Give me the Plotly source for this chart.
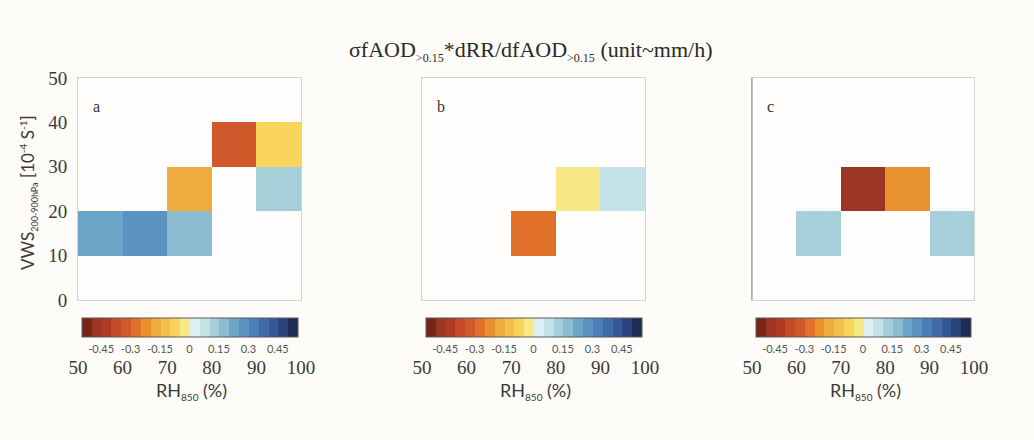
import plotly.graph_objects as go

# Bin centres (RH850 in %, VWS in 1e-4 s^-1) and the 10-unit bin edges used as ticks
rh_centres = [55, 65, 75, 85, 95]
vws_centres = [5, 15, 25, 35, 45]
rh_ticks = [50, 60, 70, 80, 90, 100]
vws_ticks = [0, 10, 20, 30, 40, 50]

# Contribution values per (VWS row, RH column); None = no data
panel_a = [
    [None, None, None, None, None],
    [0.22, 0.27, 0.17, None, None],
    [None, None, -0.17, None, 0.12],
    [None, None, None, -0.32, -0.08],
    [None, None, None, None, None],
]
panel_b = [
    [None, None, None, None, None],
    [None, None, -0.27, None, None],
    [None, None, None, -0.03, 0.07],
    [None, None, None, None, None],
    [None, None, None, None, None],
]
panel_c = [
    [None, None, None, None, None],
    [None, 0.12, None, None, 0.12],
    [None, None, -0.48, -0.22, None],
    [None, None, None, None, None],
    [None, None, None, None, None],
]
panel_letters = ["a", "b", "c"]

cbar_ticks = [-0.45, -0.3, -0.15, 0, 0.15, 0.3, 0.45]
cbar_labels = ["-0.45", "-0.3", "-0.15", "0", "0.15", "0.3", "0.45"]
cmin, cmax = -0.55, 0.55

# 22 discrete colour levels, 0.05 wide each
level_colors = [
    "#7a2419", "#9b3524", "#b03b24", "#c44a27", "#d0582a", "#e0702a",
    "#e8922f", "#eeab3e", "#f3c04b", "#f8d55a", "#f8e885",
    "#dceff2", "#c4e2e8", "#a6cfd9", "#8bbcd2", "#6da5c9", "#5b92c0",
    "#4b7fb5", "#3f6ca8", "#345796", "#2a437c", "#1e2b55",
]
n = len(level_colors)
colorscale = []
for i, c in enumerate(level_colors):
    colorscale.append([i / n, c])
    colorscale.append([(i + 1) / n, c])

W, H = 1034, 440
# Panel boxes in pixels: (left, right), shared top/bottom
boxes = [(78, 301), (422, 645), (752, 974)]
top_px, bottom_px = 78, 300

SERIF = "Liberation Serif"
SANS = "Lato"

fig = go.Figure()
panels = [panel_a, panel_b, panel_c]
for k, z in enumerate(panels):
    sfx = "" if k == 0 else str(k + 1)
    fig.add_trace(go.Heatmap(
        x=rh_centres, y=vws_centres, z=z,
        coloraxis="coloraxis" + sfx,
        xaxis="x" + sfx, yaxis="y" + sfx,
        hoverongaps=False,
    ))

layout = dict(
    width=W, height=H,
    margin=dict(l=0, r=0, t=0, b=0, autoexpand=False),
    paper_bgcolor="#fdfcf8",
    plot_bgcolor="#fefdfb",
    showlegend=False,
)

for k, (l, r) in enumerate(boxes):
    sfx = "" if k == 0 else str(k + 1)
    layout["xaxis" + sfx] = dict(
        domain=[l / W, r / W], range=[50, 100],
        tickvals=rh_ticks, ticktext=[str(v) for v in rh_ticks],
        ticks="", ticklabelstandoff=50,
        tickfont=dict(family=SERIF, size=19, color="#3a3a3a"),
        showgrid=False, zeroline=False,
        showline=True, mirror=True, linecolor="#d2d2d2", linewidth=1,
        anchor="y" + sfx, fixedrange=True, automargin=False,
    )
    layout["yaxis" + sfx] = dict(
        domain=[1 - bottom_px / H, 1 - top_px / H], range=[0, 50],
        tickvals=vws_ticks,
        showticklabels=(k == 0),
        ticks="", ticklabelstandoff=6,
        tickfont=dict(family=SERIF, size=19, color="#3a3a3a"),
        showgrid=False, zeroline=False,
        showline=True, mirror=True, linecolor="#d2d2d2", linewidth=1,
        anchor="x" + sfx, fixedrange=True, automargin=False,
    )
    cx = (l + r) / 2 / W
    layout["coloraxis" + sfx] = dict(
        colorscale=colorscale, cmin=cmin, cmax=cmax,
        colorbar=dict(
            orientation="h", x=cx, xanchor="center",
            y=1 - 318 / H, yanchor="top",
            lenmode="pixels", len=(r - l) - 7, thickness=19,
            xpad=0, ypad=0,
            outlinewidth=1, outlinecolor="#5a5a5a",
            tickvals=cbar_ticks, ticktext=cbar_labels,
            ticks="outside", ticklen=3, tickcolor="rgba(0,0,0,0)",
            tickfont=dict(family=SANS, size=11, color="#555555"),
        ),
    )

fig.update_layout(**layout)

sub_small = '<sub><span style="font-size:12px">{}</span></sub>'
annotations = [
    dict(
        text="σfAOD" + sub_small.format(">0.15") + "*dRR/dfAOD"
             + sub_small.format(">0.15") + " (unit~mm/h)",
        x=531 / W, y=1 - 51 / H, xref="paper", yref="paper",
        xanchor="center", yanchor="middle", showarrow=False,
        font=dict(family=SERIF, size=22, color="#2a2a2a"),
    ),
    dict(
        text='VWS<sub><span style="font-size:9px">200-900hPa</span></sub>'
             ' [10<sup><span style="font-size:10px">-4</span></sup>'
             ' S<sup><span style="font-size:10px">-1</span></sup>]',
        x=28 / W, y=1 - 193 / H, xref="paper", yref="paper",
        xanchor="center", yanchor="middle", textangle=-90, showarrow=False,
        font=dict(family=SANS, size=17, color="#3a3a3a"),
    ),
]
for k, (l, r) in enumerate(boxes):
    sfx = "" if k == 0 else str(k + 1)
    annotations.append(dict(
        text='RH<sub><span style="font-size:10px">850</span></sub> (%)',
        x=(l + r) / 2 / W + 2 / W, y=1 - 377 / H, xref="paper", yref="paper",
        xanchor="center", yanchor="top", showarrow=False,
        font=dict(family=SANS, size=18, color="#3a3a3a"),
    ))
    annotations.append(dict(
        text=panel_letters[k],
        x=0.058, y=0.87, xref="x" + sfx + " domain", yref="y" + sfx + " domain",
        xanchor="left", yanchor="middle", showarrow=False,
        font=dict(family=SERIF, size=16, color="#333333"),
    ))
fig.update_layout(annotations=annotations)

# darker left frame edge on the third panel
fig.add_shape(type="line", xref="x3 domain", yref="y3 domain",
              x0=0, x1=0, y0=0, y1=1, line=dict(color="#8a8a8a", width=1))

fig.write_html("out.html")
